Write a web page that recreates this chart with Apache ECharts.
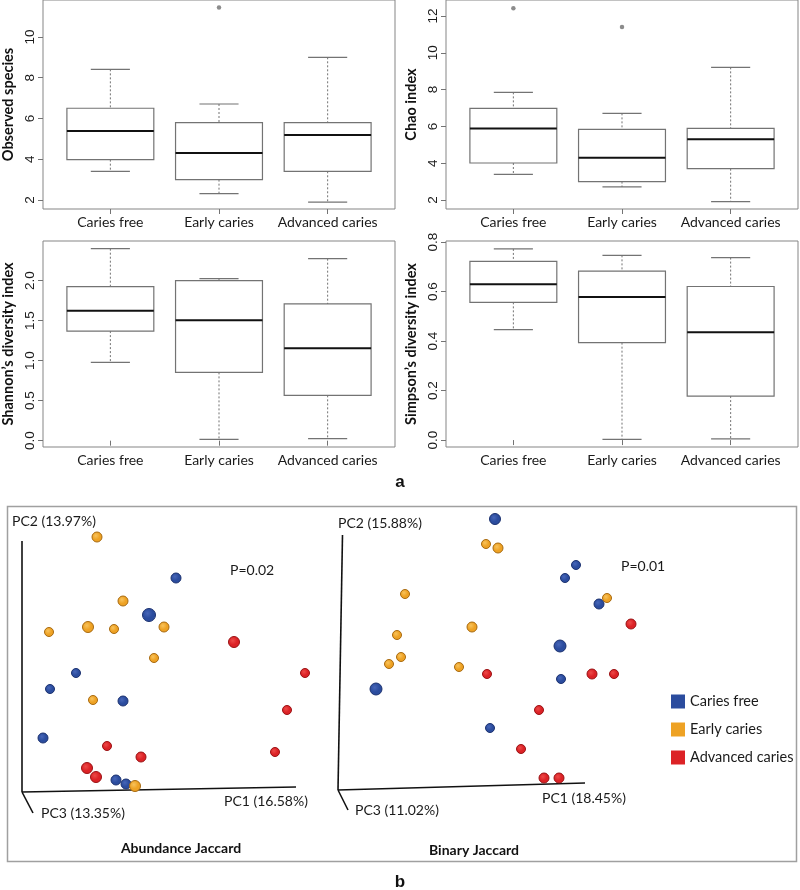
<!DOCTYPE html>
<html><head><meta charset="utf-8">
<script src="https://cdn.jsdelivr.net/npm/echarts@6/dist/echarts.min.js"></script>
<style>html,body{margin:0;padding:0;background:#fff}#c{width:800px;height:890px}</style>
</head><body><div id="c"></div>
<script>
// ---------- Data ----------
const categories = ['Caries free', 'Early caries', 'Advanced caries'];
// each row: [lower whisker, Q1, median, Q3, upper whisker]
const observedSpecies = [[3.41, 3.98, 5.39, 6.50, 8.41], [2.31, 3.00, 4.31, 5.80, 6.71], [1.90, 3.41, 5.19, 5.80, 9.00]];
const observedOutliers = [[2, 11.44]];
const chaoIndex = [[3.39, 4.01, 5.89, 6.98, 7.85], [2.71, 3.00, 4.30, 5.84, 6.71], [1.91, 3.70, 5.30, 5.89, 9.21]];
const chaoOutliers = [[1, 12.42], [2, 11.40]];
const shannonIndex = [[0.98, 1.37, 1.625, 1.925, 2.40], [0.017, 0.854, 1.504, 2.00, 2.025], [0.025, 0.567, 1.154, 1.71, 2.275]];
const simpsonIndex = [[0.447, 0.557, 0.630, 0.723, 0.773], [0.003, 0.394, 0.579, 0.683, 0.747], [0.005, 0.178, 0.436, 0.621, 0.738]];
const observedTicks = [2, 4, 6, 8, 10];
const chaoTicks = [2, 4, 6, 8, 10, 12];
const shannonTicks = [0, 0.5, 1.0, 1.5, 2.0];
const simpsonTicks = [0, 0.2, 0.4, 0.6, 0.8];

// PCoA: [PC1 projection, PC2 projection, PC3 depth (0..1)]
const abundCariesFree = [[154,214,0.4],[127,177,1.0],[54,119,0.2],[28,103,0.2],[101,91,0.4],[21,54,0.4],[94,12,0.4],[104,8,0.4]];
const abundEarly = [[75,255,0.4],[101,191,0.4],[27,160,0.2],[66,165,0.6],[92,163,0.2],[142,165,0.4],[132,134,0.2],[71,92,0.2],[113,6,0.6]];
const abundAdvanced = [[212,150,0.6],[283,119,0.2],[265,82,0.2],[253,40,0.2],[85,46,0.2],[119,35,0.4],[65,24,0.6],[74,15,0.6]];
const binCariesFree = [[38,101,0.8],[157,271,0.6],[238,225,0.2],[227,212,0.2],[261,186,0.4],[222,144,0.8],[223,111,0.2],[152,62,0.2]];
const binEarly = [[67,196,0.2],[59,155,0.2],[63,133,0.2],[51,126,0.2],[148,246,0.2],[160,242,0.4],[269,192,0.2],[134,163,0.4],[121,123,0.2]];
const binAdvanced = [[293,166,0.4],[149,116,0.2],[254,116,0.4],[276,116,0.2],[201,80,0.2],[183,41,0.2],[206,12,0.4],[221,12,0.4]];
const abundAxes = [[[0,0],[0,251]], [[0,0],[274,5]], [[0,0],[11,-21]]];
const binAxes = [[[0,0],[4.5,255]], [[0,0],[247,7]], [[0,0],[10,-20]]];
const abundLabels = {pc1: 'PC1 (16.58%)', pc2: 'PC2 (13.97%)', pc3: 'PC3 (13.35%)', p: 'P=0.02', title: 'Abundance Jaccard'};
const binLabels = {pc1: 'PC1 (18.45%)', pc2: 'PC2 (15.88%)', pc3: 'PC3 (11.02%)', p: 'P=0.01', title: 'Binary Jaccard'};

// ---------- Chart ----------
const chart = echarts.init(document.getElementById('c'), null, {renderer: 'canvas'});
const GRAY = '#737373';
const CAT_FONT = 'Lato';
const NUM_FONT = 'Liberation Sans';

function renderBox(params, api) {
  const x = api.value(0);
  const c = v => api.coord([x, v]);
  const pLo = c(api.value(1)), pQ1 = c(api.value(2)), pMed = c(api.value(3)), pQ3 = c(api.value(4)), pHi = c(api.value(5));
  const halfW = api.size([0.4, 0])[0];
  const capW = api.size([0.18, 0])[0];
  const cx = pMed[0];
  const dash = {stroke: GRAY, lineWidth: 1, lineDash: [2, 2]};
  const solid = {stroke: GRAY, lineWidth: 1.2};
  return {type: 'group', children: [
    {type: 'line', shape: {x1: cx, y1: pHi[1], x2: cx, y2: pQ3[1]}, style: dash},
    {type: 'line', shape: {x1: cx, y1: pQ1[1], x2: cx, y2: pLo[1]}, style: dash},
    {type: 'line', shape: {x1: cx - capW, y1: pHi[1], x2: cx + capW, y2: pHi[1]}, style: solid},
    {type: 'line', shape: {x1: cx - capW, y1: pLo[1], x2: cx + capW, y2: pLo[1]}, style: solid},
    {type: 'rect', shape: {x: cx - halfW, y: pQ3[1], width: 2 * halfW, height: pQ1[1] - pQ3[1]}, style: {fill: '#fff', stroke: GRAY, lineWidth: 1.2}},
    {type: 'line', shape: {x1: cx - halfW, y1: pMed[1], x2: cx + halfW, y2: pMed[1]}, style: {stroke: '#111', lineWidth: 2}}
  ]};
}

const panels = [
  {name: 'Observed species', data: observedSpecies, out: observedOutliers, ticks: observedTicks, min: 1.56, max: 11.81, grid: {left: 42, top: 0, width: 353, height: 209}, dec: 0},
  {name: 'Chao index', data: chaoIndex, out: chaoOutliers, ticks: chaoTicks, min: 1.51, max: 12.87, grid: {left: 446, top: 0, width: 352, height: 209}, dec: 0},
  {name: 'Shannon\u2019s diversity index', data: shannonIndex, out: [], ticks: shannonTicks, min: -0.079, max: 2.496, grid: {left: 42, top: 241, width: 353, height: 206}, dec: 1},
  {name: 'Simpson\u2019s diversity index', data: simpsonIndex, out: [], ticks: simpsonTicks, min: -0.028, max: 0.805, grid: {left: 446, top: 241, width: 352, height: 206}, dec: 1}
];

const grids = [], xAxes = [], yAxes = [], series = [];
panels.forEach((p, i) => {
  grids.push(Object.assign({show: true, borderColor: '#858585', borderWidth: 1, backgroundColor: 'transparent'}, p.grid));
  xAxes.push({
    type: 'value', gridIndex: i, min: 0.38, max: 3.62,
    axisLine: {show: false}, splitLine: {show: false},
    axisTick: {show: true, customValues: [1, 2, 3], length: 5, lineStyle: {color: GRAY}},
    axisLabel: {customValues: [1, 2, 3], formatter: v => categories[Math.round(v) - 1], fontFamily: CAT_FONT, fontSize: 14, color: '#1a1a1a', margin: 6}
  });
  yAxes.push({
    type: 'value', gridIndex: i, min: p.min, max: p.max,
    name: p.name, nameLocation: 'middle', nameRotate: 90, nameGap: 27,
    nameTextStyle: {fontFamily: CAT_FONT, fontWeight: 'bold', fontSize: 14.5, color: '#111'},
    axisLine: {show: false}, splitLine: {show: false},
    axisTick: {show: true, customValues: p.ticks, length: 5, lineStyle: {color: GRAY}},
    axisLabel: {customValues: p.ticks, rotate: 90, margin: 6, fontFamily: NUM_FONT, fontSize: 13.5, color: '#1a1a1a',
      formatter: v => Number(v).toFixed(p.dec)}
  });
  series.push({
    type: 'custom', xAxisIndex: i, yAxisIndex: i, renderItem: renderBox, silent: true,
    data: p.data.map((r, k) => [k + 1].concat(r))
  });
  if (p.out.length) {
    series.push({type: 'scatter', xAxisIndex: i, yAxisIndex: i, symbolSize: 4.5, silent: true,
      itemStyle: {color: '#8c8c8c', opacity: 1}, data: p.out});
  }
});

// PCoA grids
grids.push({left: 7, top: 506, width: 393, height: 356, show: false});
xAxes.push({type: 'value', gridIndex: 4, min: -15, max: 378, show: false});
yAxes.push({type: 'value', gridIndex: 4, min: -70, max: 286, show: false});
grids.push({left: 330, top: 506, width: 467, height: 356, show: false});
xAxes.push({type: 'value', gridIndex: 5, min: -8, max: 459, show: false});
yAxes.push({type: 'value', gridIndex: 5, min: -72, max: 284, show: false});

const groupColors = {
  'Caries free': {hi: '#4766b8', base: '#2b4c9e', edge: '#1c3270'},
  'Early caries': {hi: '#f8c35c', base: '#eea224', edge: '#a86a10'},
  'Advanced caries': {hi: '#ec4a48', base: '#dc2226', edge: '#9a1214'}
};
function ball(name) {
  const c = groupColors[name];
  return {opacity: 1, color: {type: 'radial', x: 0.4, y: 0.38, r: 0.6, colorStops: [{offset: 0, color: c.hi}, {offset: 0.6, color: c.base}, {offset: 1, color: c.base}]},
    borderColor: c.edge, borderWidth: 1};
}
[[4, abundAxes], [5, binAxes]].forEach(([gi, ax]) => {
  series.push({type: 'lines', coordinateSystem: 'cartesian2d', xAxisIndex: gi, yAxisIndex: gi, silent: true, z: 1,
    lineStyle: {color: '#111', width: 1.6, opacity: 1}, data: ax.map(s => ({coords: s}))});
});
const pcoa = [
  [4, 'Caries free', abundCariesFree], [4, 'Early caries', abundEarly], [4, 'Advanced caries', abundAdvanced],
  [5, 'Caries free', binCariesFree], [5, 'Early caries', binEarly], [5, 'Advanced caries', binAdvanced]
];
pcoa.forEach(([gi, name, d]) => {
  series.push({type: 'scatter', name, xAxisIndex: gi, yAxisIndex: gi, clip: false, z: 3, silent: true,
    symbolSize: v => 8 + v[2] * 5, itemStyle: {color: groupColors[name].base, opacity: 1},
    data: d.map(v => ({value: v, itemStyle: ball(name)}))});
});

function txt(text, x, y, opts) {
  return Object.assign({type: 'text', x, y, silent: true, z: 10,
    style: Object.assign({text, fill: '#1a1a1a', font: '14px Lato', align: 'left', verticalAlign: 'middle'}, opts || {})});
}

const graphic = [
  {type: 'rect', shape: {x: 7.5, y: 506.5, width: 789, height: 355}, style: {fill: 'none', stroke: '#a0a0a0', lineWidth: 1.5}, z: 0, silent: true},
  txt('a', 400, 482, {font: 'bold 17px "Liberation Sans"', align: 'center', fill: '#111'}),
  txt('b', 400, 882, {font: 'bold 17px "Liberation Sans"', align: 'center', fill: '#111'}),
  txt(abundLabels.pc2, 12, 521), txt(abundLabels.pc3, 41, 813), txt(abundLabels.pc1, 224, 801), txt(abundLabels.p, 230, 570),
  txt(abundLabels.title, 181, 848, {font: 'bold 14px Lato', align: 'center', fill: '#111'}),
  txt(binLabels.pc2, 338, 523), txt(binLabels.pc3, 355, 810), txt(binLabels.pc1, 542, 798), txt(binLabels.p, 621, 566),
  txt(binLabels.title, 474, 850, {font: 'bold 14px Lato', align: 'center', fill: '#111'})
];

chart.setOption({
  animation: false,
  backgroundColor: '#fff',
  grid: grids, xAxis: xAxes, yAxis: yAxes, series,
  legend: {left: 671, top: 694, orient: 'vertical', padding: 0, itemWidth: 14, itemHeight: 14, itemGap: 13, icon: 'rect', selectedMode: false,
    textStyle: {fontFamily: CAT_FONT, fontSize: 14.5, color: '#1a1a1a'},
    data: categories.map(n => ({name: n, itemStyle: {color: groupColors[n].base, borderWidth: 0, opacity: 1}}))},
  graphic
});
</script>
</body></html>
